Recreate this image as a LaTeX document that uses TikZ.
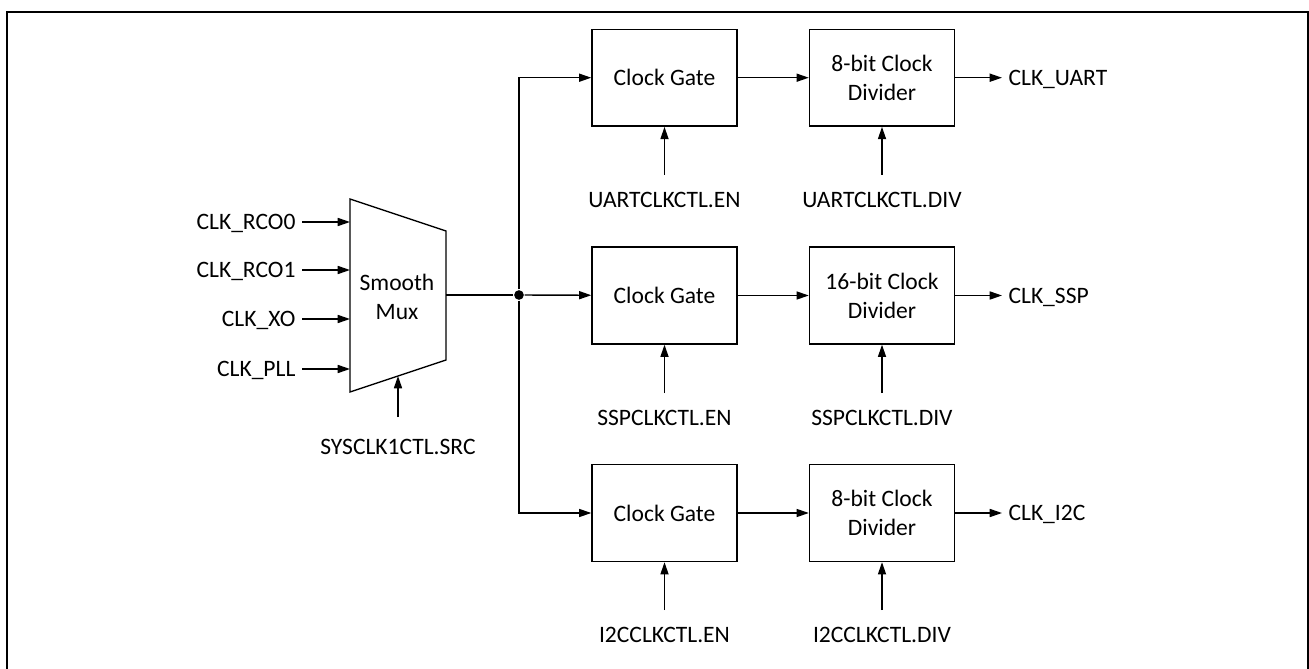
\documentclass[tikz,border=0pt]{standalone}
\usepackage{fontspec}
\setmainfont{Carlito}
\usetikzlibrary{arrows.meta}

\begin{document}
\begin{tikzpicture}[x = 0.02cm, y = -0.02cm, line width = 0.8pt,
                    >={Triangle[length = 7pt, width = 4.6pt]}]
\tikzstyle{BlockStyle}=[shape = rectangle, draw, align = center,
                        minimum width = 2.9cm, minimum height = 1.94cm,
                        font = \fontsize{13.4}{16.4}\selectfont]
\tikzstyle{TextStyle}=[font = \fontsize{13.4}{16.4}\selectfont,
                       text height = 8.6pt, text depth = 0pt]
\tikzstyle{CtlStyle}=[TextStyle, anchor = north, inner ysep = 9.5pt]
\useasboundingbox (0,0) rectangle (1309,669);
\draw[line width = 1.4pt] (7,669) -- (7,12) -- (1308,12) -- (1308,669);
\draw (350,199) -- (446,231) -- (446,360) -- (350,392) -- cycle;
\node[align = center, font = \fontsize{13.4}{16.4}\selectfont] (mux) at (397,297) {Smooth\\Mux};
\coordinate (m0) at (350,222);
\coordinate (m1) at (350,270);
\coordinate (m2) at (350,319);
\coordinate (m3) at (350,369);
\coordinate (ms) at (398,376);
\coordinate (mo) at (446,295);
\node[TextStyle, anchor = east] (i0) at (302,222) {CLK\_RCO0};
\node[TextStyle, anchor = east] (i1) at (302,270) {CLK\_RCO1};
\node[TextStyle, anchor = east] (i2) at (302,319) {CLK\_XO};
\node[TextStyle, anchor = east] (i3) at (302,369) {CLK\_PLL};
\node[CtlStyle, inner ysep = 12.5pt] (sel) at (398,417) {SYSCLK1CTL.SRC};
\node[shape = circle, fill, inner sep = 0pt, minimum size = 5.5pt] (dot) at (519,295) {};
\node[BlockStyle] (g0) at (664.5,77.7) {Clock Gate};
\node[BlockStyle] (g1) at (664.5,295.5) {Clock Gate};
\node[BlockStyle] (g2) at (664.5,513) {Clock Gate};
\node[BlockStyle] (d0) at (882,77.7) {8-bit Clock\\Divider};
\node[BlockStyle] (d1) at (882,295.5) {16-bit Clock\\Divider};
\node[BlockStyle] (d2) at (882,513) {8-bit Clock\\Divider};
\node[CtlStyle] (e0) at (664.5,175) {UARTCLKCTL.EN};
\node[CtlStyle] (e1) at (664.5,393) {SSPCLKCTL.EN};
\node[CtlStyle] (e2) at (664.5,610) {I2CCLKCTL.EN};
\node[CtlStyle] (c0) at (882,175) {UARTCLKCTL.DIV};
\node[CtlStyle] (c1) at (882,393) {SSPCLKCTL.DIV};
\node[CtlStyle] (c2) at (882,610) {I2CCLKCTL.DIV};
\node[TextStyle, anchor = west] (o0) at (1002,77.7) {CLK\_UART};
\node[TextStyle, anchor = west] (o1) at (1002,295.5) {CLK\_SSP};
\node[TextStyle, anchor = west] (o2) at (1002,513) {CLK\_I2C};
\draw[->] (i0) -- (m0);
\draw[->] (i1) -- (m1);
\draw[->] (i2) -- (m2);
\draw[->] (i3) -- (m3);
\draw[->] (sel) -- (ms);
\draw (mo) -- (dot);
\draw[->] (dot) |- (g0);
\draw[->] (dot) -- (g1);
\draw[->] (dot) |- (g2);
\draw[->] (g0) -- (d0);
\draw[->] (g1) -- (d1);
\draw[->] (g2) -- (d2);
\draw[->] (d0) -- (o0);
\draw[->] (d1) -- (o1);
\draw[->] (d2) -- (o2);
\draw[->] (e0) -- (g0);
\draw[->] (e1) -- (g1);
\draw[->] (e2) -- (g2);
\draw[->] (c0) -- (d0);
\draw[->] (c1) -- (d1);
\draw[->] (c2) -- (d2);
\end{tikzpicture}
\end{document}
